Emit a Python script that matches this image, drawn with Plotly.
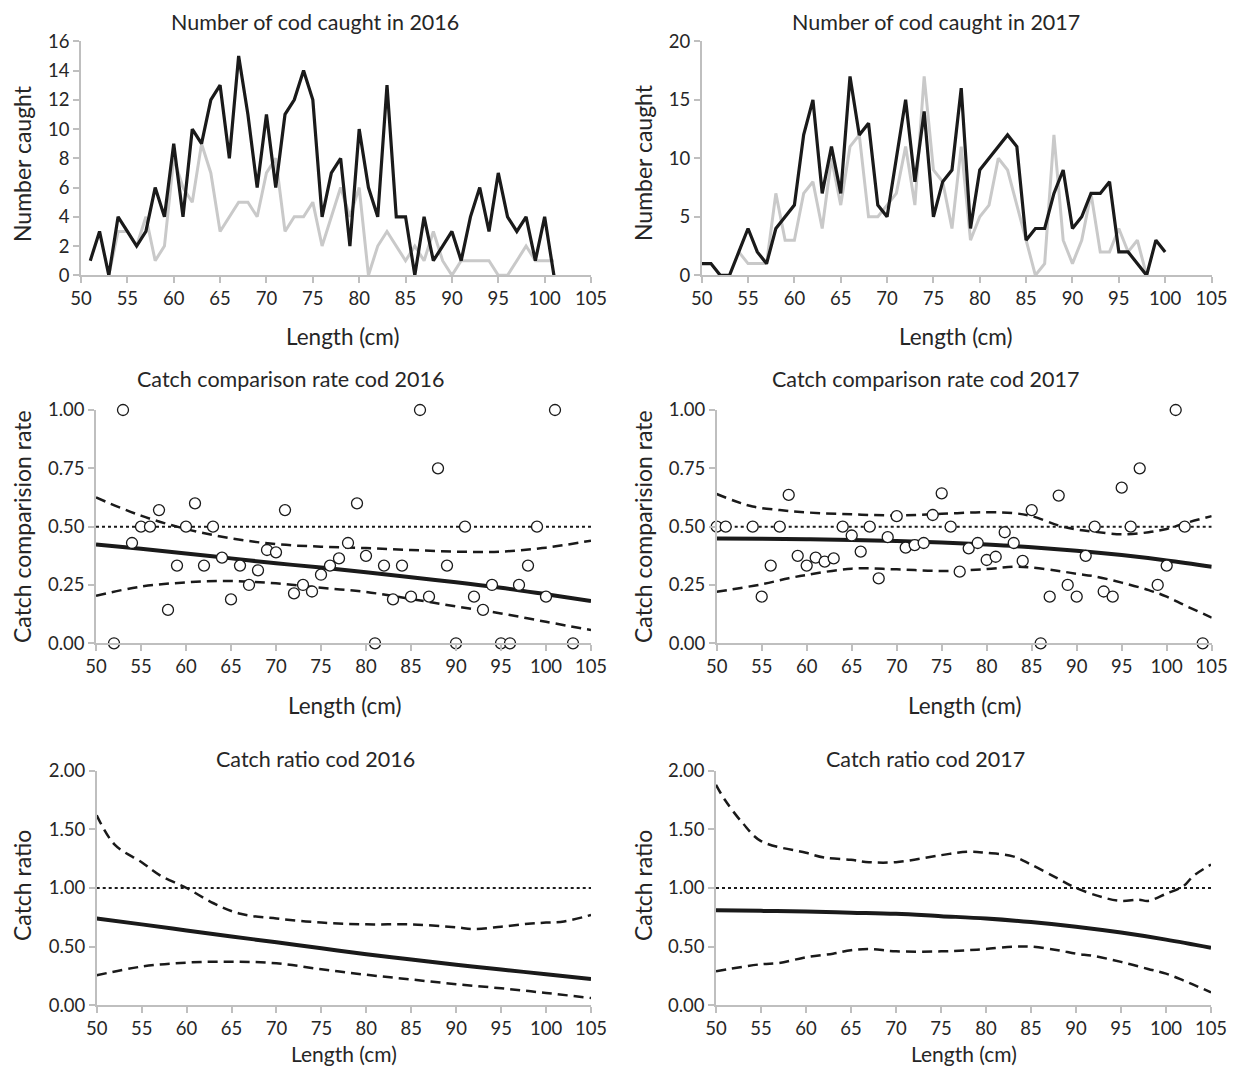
import plotly.graph_objects as go

# ---------------- data ----------------
len16_a = list(range(51, 102))
caught16_a = [1, 3, 0, 4, 3, 2, 3, 6, 4, 9, 4, 10, 9, 12, 13, 8, 15, 11, 6, 11, 6, 11, 12, 14, 12,
              4, 7, 8, 2, 10, 6, 4, 13, 4, 4, 0, 4, 1, 2, 3, 1, 4, 6, 3, 7, 4, 3, 4, 1, 4, 0]
len16_b = list(range(53, 102))
caught16_b = [0, 3, 3, 2, 4, 1, 2, 8, 6, 5, 9, 7, 3, 4, 5, 5, 4, 7, 8, 3, 4, 4, 5, 2, 4,
              6, 4, 6, 0, 2, 3, 2, 1, 2, 1, 3, 1, 0, 1, 1, 1, 1, 0, 0, 1, 2, 1, 1, 1]

len17_a = list(range(50, 101))
caught17_a = [1, 1, 0, 0, 2, 4, 2, 1, 4, 5, 6, 12, 15, 7, 11, 7, 17, 12, 13, 6, 5, 10, 15, 8, 14,
              5, 8, 9, 16, 4, 9, 10, 11, 12, 11, 3, 4, 4, 7, 9, 4, 5, 7, 7, 8, 2, 2, 1, 0, 3, 2]
len17_b = list(range(54, 99))
caught17_b = [2, 1, 1, 1, 7, 3, 3, 7, 8, 4, 10, 6, 11, 12, 5, 5, 6, 7, 11, 6, 17, 9, 8, 4, 11,
              3, 5, 6, 10, 9, 6, 3, 0, 1, 12, 3, 1, 3, 7, 2, 2, 4, 2, 3, 0]

# catch comparison rate observations
ccr16_len = [52, 53, 54, 55, 56, 57, 58, 59, 60, 61, 62, 63, 64, 65, 66, 67, 68, 69, 70, 71, 72, 73,
             74, 75, 76, 77, 78, 79, 80, 81, 82, 83, 84, 85, 86, 87, 88, 89, 90, 91, 92, 93, 94, 95,
             96, 97, 98, 99, 100, 101, 103]
ccr16_val = [0, 1.0, 0.43, 0.5, 0.5, 0.571, 0.143, 0.333, 0.5, 0.6, 0.333, 0.5, 0.367, 0.188, 0.333,
             0.25, 0.313, 0.4, 0.39, 0.571, 0.214, 0.25, 0.222, 0.294, 0.333, 0.364, 0.43, 0.6, 0.375,
             0, 0.333, 0.188, 0.333, 0.2, 1.0, 0.2, 0.75, 0.333, 0, 0.5, 0.2, 0.143, 0.25, 0, 0, 0.25,
             0.333, 0.5, 0.2, 1.0, 0]
ccr17_len = [50, 51, 54, 55, 56, 57, 58, 59, 60, 61, 62, 63, 64, 65, 66, 67, 68, 69, 70, 71, 72, 73,
             74, 75, 76, 77, 78, 79, 80, 81, 82, 83, 84, 85, 86, 87, 88, 89, 90, 91, 92, 93, 94, 95,
             96, 97, 99, 100, 101, 102, 104]
ccr17_val = [0.5, 0.5, 0.5, 0.2, 0.333, 0.5, 0.636, 0.375, 0.333, 0.367, 0.35, 0.364, 0.5, 0.462,
             0.393, 0.5, 0.278, 0.455, 0.545, 0.41, 0.421, 0.43, 0.55, 0.643, 0.5, 0.307, 0.407, 0.43,
             0.357, 0.371, 0.476, 0.43, 0.353, 0.571, 0, 0.2, 0.633, 0.25, 0.2, 0.375, 0.5, 0.222,
             0.2, 0.667, 0.5, 0.75, 0.25, 0.333, 1.0, 0.5, 0]

# fitted curves (catch comparison)
fit_len = [50, 55, 60, 65, 70, 75, 80, 85, 90, 95, 100, 105]
ccr16_fit = [0.424, 0.405, 0.385, 0.364, 0.343, 0.325, 0.305, 0.283, 0.262, 0.238, 0.21, 0.181]
ccr17_fit = [0.449, 0.448, 0.446, 0.443, 0.438, 0.432, 0.423, 0.412, 0.397, 0.378, 0.355, 0.328]

ccr16_up_len = [50, 55, 60, 65, 70, 75, 80, 85, 90, 95, 100, 105]
ccr16_up = [0.625, 0.547, 0.49, 0.45, 0.425, 0.414, 0.408, 0.4, 0.393, 0.393, 0.41, 0.44]
ccr16_lo_len = [50, 55, 60, 65, 70, 75, 80, 85, 90, 95, 100, 105]
ccr16_lo = [0.204, 0.243, 0.261, 0.267, 0.257, 0.238, 0.22, 0.19, 0.158, 0.128, 0.092, 0.057]

ccr17_up_len = [50, 52, 54, 57, 60, 65, 70, 75, 80, 83, 85, 88, 90, 92, 95, 98, 100, 102, 105]
ccr17_up = [0.64, 0.61, 0.586, 0.571, 0.561, 0.553, 0.548, 0.555, 0.562, 0.558, 0.545, 0.505,
            0.488, 0.478, 0.467, 0.476, 0.49, 0.514, 0.545]
ccr17_lo_len = [50, 55, 58, 60, 65, 70, 75, 80, 83, 85, 88, 90, 92, 95, 98, 100, 102, 105]
ccr17_lo = [0.221, 0.253, 0.279, 0.293, 0.32, 0.317, 0.31, 0.318, 0.328, 0.325, 0.31, 0.298,
            0.287, 0.26, 0.228, 0.2, 0.163, 0.11]

# catch ratio curves
cr16_fit = [0.74, 0.69, 0.638, 0.587, 0.537, 0.486, 0.435, 0.39, 0.345, 0.305, 0.265, 0.225]
cr16_up_len = [50, 52, 55, 57, 60, 63, 66, 70, 75, 80, 85, 90, 92, 95, 98, 100, 102, 105]
cr16_up = [1.62, 1.37, 1.22, 1.11, 1.0, 0.87, 0.78, 0.74, 0.705, 0.69, 0.69, 0.665, 0.65, 0.67,
           0.695, 0.705, 0.715, 0.77]
cr16_lo_len = [50, 55, 60, 65, 70, 75, 80, 85, 90, 95, 100, 105]
cr16_lo = [0.256, 0.33, 0.364, 0.372, 0.358, 0.307, 0.26, 0.22, 0.18, 0.145, 0.105, 0.062]

cr17_fit = [0.81, 0.805, 0.8, 0.79, 0.78, 0.76, 0.74, 0.71, 0.67, 0.62, 0.56, 0.49]
cr17_up_len = [50, 51, 53, 55, 60, 62, 65, 67, 70, 75, 78, 80, 83, 85, 88, 90, 93, 95, 97, 98,
               100, 102, 103, 105]
cr17_up = [1.88, 1.75, 1.55, 1.40, 1.30, 1.26, 1.24, 1.22, 1.22, 1.28, 1.31, 1.30, 1.27, 1.20,
           1.08, 1.0, 0.92, 0.89, 0.90, 0.89, 0.95, 1.02, 1.10, 1.20]
cr17_lo_len = [50, 55, 57, 60, 63, 65, 67, 70, 75, 78, 80, 83, 85, 88, 90, 92, 95, 98, 100, 102, 105]
cr17_lo = [0.29, 0.35, 0.36, 0.41, 0.44, 0.47, 0.48, 0.46, 0.46, 0.47, 0.48, 0.50, 0.50, 0.47,
           0.44, 0.42, 0.37, 0.31, 0.27, 0.21, 0.11]

titles = ["Number of cod caught in 2016", "Number of cod caught in 2017",
          "Catch comparison rate cod 2016", "Catch comparison rate cod 2017",
          "Catch ratio cod 2016", "Catch ratio cod 2017"]
ytitles = ["Number caught", "Catch comparision rate", "Catch ratio"]
xtitle = "Length (cm)"

# ---------------- layout helpers ----------------
PAGE_MARGIN = 8          # default body margin of the html page
W, H = 1235 - 2 * PAGE_MARGIN, 1075 - 2 * PAGE_MARGIN
FONT = "Lato"
TXT = "#262626"
AXC = "#bfbfbf"

def px(x):
    return (x - PAGE_MARGIN) / W

def py(y):
    return (H - (y - PAGE_MARGIN)) / H

# panel boxes in page pixels: (left, right, top, bottom)
boxes = [
    (81, 591, 41.3, 275.3),
    (701.7, 1211.5, 41.3, 275.3),
    (96, 591, 410, 643.3),
    (716.7, 1211.7, 410, 643.3),
    (96.7, 591, 770.7, 1005.3),
    (716, 1211, 770.7, 1005.3),
]
yranges = [(0, 16, 2, None), (0, 20, 5, None), (0, 1, 0.25, ".2f"), (0, 1, 0.25, ".2f"),
           (0, 2, 0.5, ".2f"), (0, 2, 0.5, ".2f")]

fig = go.Figure()
layout = {}
for i, (l, r, t, b) in enumerate(boxes):
    n = "" if i == 0 else str(i + 1)
    y0, y1, dt, fmt = yranges[i]
    common = dict(
        showgrid=False, zeroline=False, showline=True, linecolor=AXC, linewidth=1.5,
        ticks="outside", ticklen=6, tickcolor=AXC, tickwidth=1.5, automargin=False,
        ticklabeloverflow="allow", tickfont=dict(family=FONT, size=18.5, color=TXT),
    )
    layout["xaxis" + n] = dict(domain=[px(l), px(r)], anchor="y" + n, range=[50, 105],
                               tick0=50, dtick=5, **common)
    yax = dict(domain=[py(b), py(t)], anchor="x" + n, range=[y0, y1], tick0=0, dtick=dt, **common)
    if fmt:
        yax["tickformat"] = fmt
    layout["yaxis" + n] = yax


def ax(i):
    return ("x" if i == 0 else "x" + str(i + 1)), ("y" if i == 0 else "y" + str(i + 1))


def add_line(i, x, y, color, width, dash="solid", shape="linear"):
    xa, ya = ax(i)
    fig.add_trace(go.Scatter(x=x, y=y, mode="lines", xaxis=xa, yaxis=ya,
                             line=dict(color=color, width=width, dash=dash, shape=shape),
                             cliponaxis=False, showlegend=False, hoverinfo="skip"))


def add_points(i, x, y):
    xa, ya = ax(i)
    fig.add_trace(go.Scatter(x=x, y=y, mode="markers", xaxis=xa, yaxis=ya,
                             marker=dict(size=11, color="white",
                                         line=dict(color="#1a1a1a", width=1.3)),
                             cliponaxis=False, showlegend=False))

GREY = "#c9c9c9"
BLACK = "#1a1a1a"
DASH = "10px,6px"

# top panels
add_line(0, len16_b, caught16_b, GREY, 3)
add_line(0, len16_a, caught16_a, BLACK, 3.2)
add_line(1, len17_b, caught17_b, GREY, 3)
add_line(1, len17_a, caught17_a, BLACK, 3.2)

# middle panels
add_line(2, [50, 105], [0.5, 0.5], BLACK, 2, "dot")
add_line(2, ccr16_up_len, ccr16_up, BLACK, 2.5, DASH, "spline")
add_line(2, ccr16_lo_len, ccr16_lo, BLACK, 2.5, DASH, "spline")
add_line(2, fit_len, ccr16_fit, BLACK, 4, "solid", "spline")
add_points(2, ccr16_len, ccr16_val)

add_line(3, [50, 105], [0.5, 0.5], BLACK, 2, "dot")
add_line(3, ccr17_up_len, ccr17_up, BLACK, 2.5, DASH, "spline")
add_line(3, ccr17_lo_len, ccr17_lo, BLACK, 2.5, DASH, "spline")
add_line(3, fit_len, ccr17_fit, BLACK, 4, "solid", "spline")
add_points(3, ccr17_len, ccr17_val)

# bottom panels
add_line(4, [50, 105], [1.0, 1.0], BLACK, 2, "dot")
add_line(4, cr16_up_len, cr16_up, BLACK, 2.5, DASH, "spline")
add_line(4, cr16_lo_len, cr16_lo, BLACK, 2.5, DASH, "spline")
add_line(4, fit_len, cr16_fit, BLACK, 4, "solid", "spline")

add_line(5, [50, 105], [1.0, 1.0], BLACK, 2, "dot")
add_line(5, cr17_up_len, cr17_up, BLACK, 2.5, DASH, "spline")
add_line(5, cr17_lo_len, cr17_lo, BLACK, 2.5, DASH, "spline")
add_line(5, fit_len, cr17_fit, BLACK, 4, "solid", "spline")

# ---------------- text ----------------
ann = []
title_pos = [(315, 22), (936, 22), (290, 379), (925, 379), (315, 759), (925, 759)]
for t, (x, y) in zip(titles, title_pos):
    ann.append(dict(text=t, x=px(x), y=py(y), xref="paper", yref="paper", showarrow=False,
                    xanchor="center", yanchor="middle", font=dict(family=FONT, size=21.5, color=TXT)))
xt_pos = [(342, 336), (955, 336), (344, 705), (964, 705)]
for (x, y) in xt_pos:
    ann.append(dict(text=xtitle, x=px(x), y=py(y), xref="paper", yref="paper", showarrow=False,
                    xanchor="center", yanchor="middle", font=dict(family=FONT, size=22.5, color=TXT)))
for x in (344, 964):
    ann.append(dict(text=xtitle, x=px(x), y=0.0, xref="paper", yref="paper", showarrow=False,
                    xanchor="center", yanchor="bottom", borderpad=0,
                    font=dict(family=FONT, size=21, color=TXT)))
yt_pos = [(22, 164), (643, 163), (22, 527), (643, 527), (22, 886), (643, 886)]
for k, (x, y) in enumerate(yt_pos):
    ann.append(dict(text=ytitles[k // 2], x=px(x), y=py(y), xref="paper", yref="paper",
                    showarrow=False, textangle=-90, xanchor="center", yanchor="middle",
                    font=dict(family=FONT, size=23, color=TXT)))

fig.update_layout(width=W, height=H,
                  margin=dict(l=0, r=0, t=0, b=0, pad=0, autoexpand=False),
                  paper_bgcolor="white", plot_bgcolor="white", annotations=ann,
                  showlegend=False, **layout)

fig.write_html("out.html")
